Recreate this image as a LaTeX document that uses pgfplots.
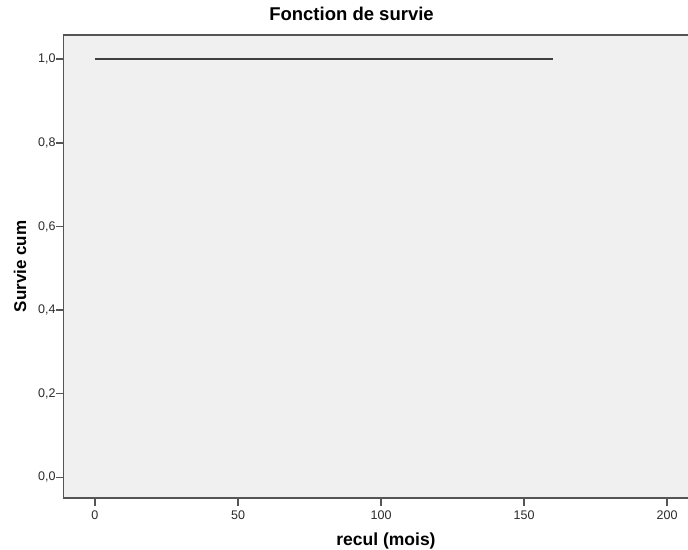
\documentclass[border=0pt]{standalone}
\usepackage{fontspec}
\setmainfont{Liberation Sans}
\usepackage{pgfplots}
\pgfplotsset{compat=1.18}

\definecolor{panelbg}{HTML}{F0F0F0}
\definecolor{axisgray}{HTML}{555555}
\definecolor{curvegray}{HTML}{404040}
\definecolor{ticktext}{HTML}{2A2A2A}

\begin{document}
\begin{tikzpicture}[x=1pt,y=1pt]
\begin{axis}[
  at={(0,0)}, anchor=south west,
  scale only axis,
  width=624.5pt, height=463pt,
  xmin=-11, xmax=207.3,
  ymin=-0.0495, ymax=1.058,
  axis x line*=box, axis y line*=left,
  axis line style={axisgray, line width=1.8pt},
  axis background/.style={fill=panelbg},
  xtick={0,50,100,150,200},
  ytick={0,0.2,0.4,0.6,0.8,1.0},
  xtick pos=bottom, ytick pos=left,
  tick align=outside,
  major tick length=7.5pt,
  tick style={axisgray, line width=1.5pt},
  /pgf/number format/assume math mode=true,
  xticklabel style={font=\fontsize{12.5}{14}\selectfont, text=ticktext, yshift=-2pt,
    /pgf/number format/1000 sep={}},
  yticklabel style={font=\fontsize{12.5}{14}\selectfont, text=ticktext, xshift=3pt,
    /pgf/number format/.cd, use comma, fixed, fixed zerofill, precision=1},
  title={Fonction de survie},
  title style={at={(axis description cs:0.4612,1)}, anchor=base, yshift=8pt,
    font=\bfseries\fontsize{18.5}{20}\selectfont},
  xlabel={recul (mois)},
  xlabel style={at={(axis description cs:0.5164,0)}, anchor=base, yshift=-47pt,
    font=\bfseries\fontsize{17.5}{19}\selectfont},
  ylabel={Survie cum},
  ylabel style={at={(axis description cs:-0.06005,0.5)}, anchor=base,
    font=\bfseries\fontsize{17}{19}\selectfont},
]
\addplot[curvegray, line width=1.5pt, no marks, const plot] coordinates {
  (0,1.0)
  (160,1.0)
};
\end{axis}
\pgfresetboundingbox
\path (-63.5,-51) rectangle (624.5,498);
\end{tikzpicture}
\end{document}
